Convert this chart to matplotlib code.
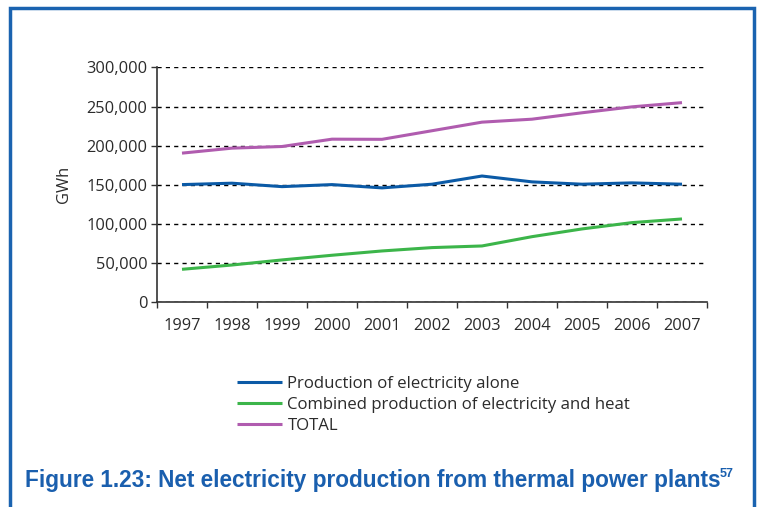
import matplotlib.pyplot as plt
from matplotlib.patches import Rectangle

years = ['1997', '1998', '1999', '2000', '2001', '2002',
         '2003', '2004', '2005', '2006', '2007']
elec_alone = [150000, 151800, 147400, 150000, 145800, 150500,
              161000, 153500, 150500, 152200, 150500]
combined = [41500, 47000, 53500, 59500, 65000, 69300,
            71400, 83300, 93200, 101300, 106000]
total = [190300, 196700, 198800, 208200, 208000, 219000,
         230000, 233800, 242000, 249600, 255000]

labels = ['Production of electricity alone',
          'Combined production of electricity and heat',
          'TOTAL']
colors = ['#0b5aa6', '#3cb54a', '#b05caf']

plt.rcParams['font.family'] = ['Open Sans', 'DejaVu Sans']
txt = '#2b2b2b'
blue = '#1a5fae'

fig = plt.figure(figsize=(7.57, 5.07), dpi=100)
ax = fig.add_axes([157 / 757, 1 - 301.7 / 507, 550 / 757, 234.2 / 507])

x = range(len(years))
lines = []
for vals, c in zip([elec_alone, combined, total], colors):
    ln, = ax.plot(x, vals, color=c, lw=2.2, solid_capstyle='butt')
    lines.append(ln)

ax.set_xlim(-0.5, len(years) - 0.5)
ax.set_ylim(0, 300000)
ax.set_yticks(range(0, 300001, 50000))
ax.set_yticklabels([f'{v:,}' for v in range(0, 300001, 50000)])
ax.set_xticks(list(x))
ax.set_xticklabels(years)
ax.set_xticks([i - 0.5 for i in range(len(years) + 1)], minor=True)
ax.tick_params(axis='x', which='major', length=0, pad=12)
ax.tick_params(axis='x', which='minor', length=4, width=1, color='#333333', direction='out')
ax.tick_params(axis='y', length=4, width=1, color='#333333', pad=3)
ax.tick_params(labelsize=11.8, labelcolor=txt)

for s in ['top', 'right']:
    ax.spines[s].set_visible(False)
for s in ['left', 'bottom']:
    ax.spines[s].set_color('#333333')
    ax.spines[s].set_linewidth(1.2)

ax.yaxis.grid(True, linestyle=(0, (3, 3)), color='black', lw=1)
ax.set_axisbelow(True)
ax.set_ylabel('GWh', fontsize=11.8, color=txt, labelpad=10)

fig.legend(lines, labels, loc='upper left', bbox_to_anchor=(237 / 757, 1 - 376 / 507),
           frameon=False, fontsize=12.1, handlelength=2.7, handletextpad=0.3,
           labelspacing=0.3, labelcolor=txt, borderaxespad=0, borderpad=0)

# condensed bold caption: fit it to the width it has in the original
title = fig.text(25 / 757, 1 - 487 / 507,
                 'Figure 1.23: Net electricity production from thermal power plants',
                 fontsize=15, fontweight='bold', color=blue,
                 family=['Liberation Sans', 'DejaVu Sans'], va='baseline', ha='left')
r = fig.canvas.get_renderer()
w = title.get_window_extent(r).width
title.set_fontsize(15 * 702 / w)
bb = title.get_window_extent(r)
fig.text((bb.x1 - 1) / 757, 1 - 477 / 507, '57', fontsize=9, fontweight='bold',
         color=blue, family=['Liberation Sans', 'DejaVu Sans'], va='baseline', ha='left')

fig.patches.append(Rectangle((10 / 757, -0.05), 744 / 757, 1.05 - 8 / 507,
                             transform=fig.transFigure, fill=False,
                             edgecolor='#1a63b0', lw=2.5))

fig.savefig('out.png', dpi=100)
